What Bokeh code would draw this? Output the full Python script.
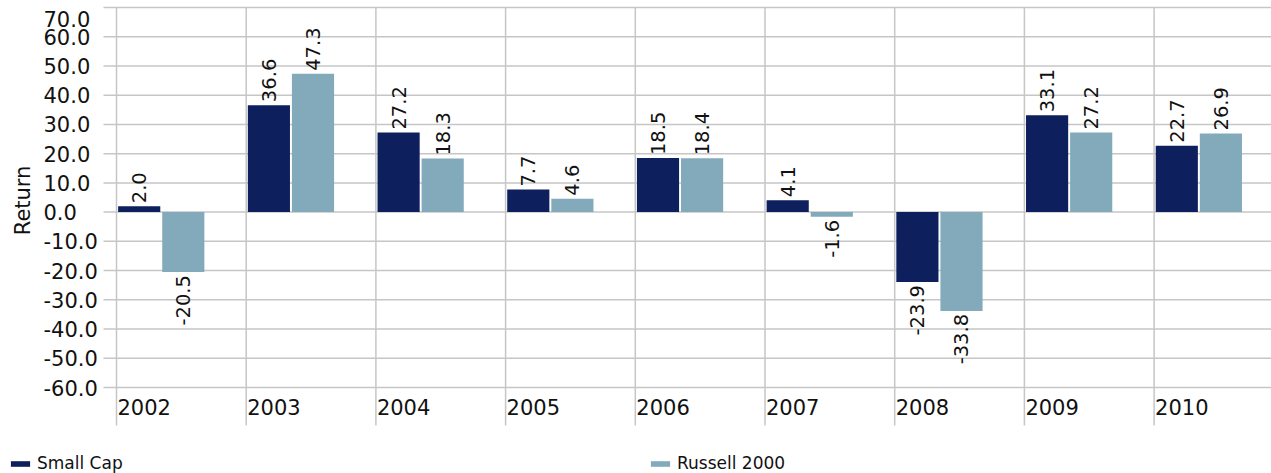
import math
from bokeh.plotting import figure
from bokeh.models import ColumnDataSource, Range1d, Legend, LegendItem
from bokeh.core.properties import value
from bokeh.embed import file_html
from bokeh.resources import INLINE

# ---- data ----
years = ["2002", "2003", "2004", "2005", "2006", "2007", "2008", "2009", "2010"]
small_cap = [2.0, 36.6, 27.2, 7.7, 18.5, 4.1, -23.9, 33.1, 22.7]
russell_2000 = [-20.5, 47.3, 18.3, 4.6, 18.4, -1.6, -33.8, 27.2, 26.9]
series_names = ["Small Cap", "Russell 2000"]
y_ticks = [-60, -50, -40, -30, -20, -10, 0, 10, 20, 30, 40, 50, 60, 70]
y_title = "Return"

# ---- style / layout ----
FONT = "DejaVu Sans"
C_SMALL = "#0d1f5c"
C_RUSS = "#83aabb"
GRID = "#c6c6c6"
TXT = "#111111"
BAR_W = 0.325
OFF1, OFF2 = 0.175, 0.515
W, H = 1271, 473
PX_X = 129.7            # pixels per category
PLOT_LEFT = 116         # left edge of the plotting area (px)
PLOT_TOP = 7            # px of the top tick
PLOT_BOTTOM = 387       # px of the bottom tick
GRID_EXT = 38           # category lines run this far below the bottom tick (px)

y_top, y_bot = max(y_ticks), min(y_ticks)
PX_Y = (PLOT_BOTTOM - PLOT_TOP) / (y_top - y_bot)
x_start = -PLOT_LEFT / PX_X
x_end = (W - PLOT_LEFT) / PX_X
y_end = y_top + PLOT_TOP / PX_Y
y_start = y_bot - (H - PLOT_BOTTOM) / PX_Y
y_cat_line_end = y_bot - GRID_EXT / PX_Y
x_tick_start = -13 / PX_X
x_tick_label = -73 / PX_X
x_title = -94 / PX_X

idx = list(range(len(years)))

p = figure(width=W, height=H, output_backend="svg", toolbar_location=None,
           x_range=Range1d(x_start, x_end), y_range=Range1d(y_start, y_end),
           min_border=0, x_axis_location=None, y_axis_location=None)
p.outline_line_color = None
p.grid.visible = False
p.background_fill_color = "white"
p.border_fill_color = "white"

# grid: category boundaries and value ticks (with outward tick marks)
p.segment(x0=idx, x1=idx, y0=[y_cat_line_end] * len(idx), y1=[y_top] * len(idx),
          line_color=GRID, line_width=1.5)
p.segment(x0=[x_tick_start] * len(y_ticks), x1=[x_end] * len(y_ticks),
          y0=y_ticks, y1=y_ticks, line_color=GRID, line_width=1.5)

# value tick labels (left aligned; top one kept inside the page)
tick_src = ColumnDataSource(dict(x=[x_tick_label] * len(y_ticks), y=y_ticks,
                                 text=[f"{t:.1f}" for t in y_ticks],
                                 yoff=[11 if t == y_top else 0 for t in y_ticks]))
p.text(x="x", y="y", text="text", source=tick_src, y_offset="yoff",
       text_align="left", text_baseline="middle", text_font=value(FONT),
       text_font_size="21px", text_color=TXT)

# axis title
p.text(x=[x_title], y=[4.0], text=[y_title], angle=math.pi / 2,
       text_align="center", text_baseline="middle", text_font=value(FONT),
       text_font_size="21px", text_color=TXT)

# bars
r1 = p.vbar(x=[i + OFF1 for i in idx], top=small_cap, bottom=0, width=BAR_W,
            fill_color=C_SMALL, line_color=None)
r2 = p.vbar(x=[i + OFF2 for i in idx], top=russell_2000, bottom=0, width=BAR_W,
            fill_color=C_RUSS, line_color=None)

# data labels
lx, ly, lt, la, lo = [], [], [], [], []
for off, vals in ((OFF1, small_cap), (OFF2, russell_2000)):
    for i, v in zip(idx, vals):
        lx.append(i + off)
        ly.append(v)
        lt.append(f"{v:.1f}")
        la.append("left" if v >= 0 else "right")
        lo.append(-3 if v >= 0 else 3)
lab_src = ColumnDataSource(dict(x=lx, y=ly, text=lt, align=la, yoff=lo))
p.text(x="x", y="y", text="text", source=lab_src, angle=math.pi / 2,
       text_align="align", y_offset="yoff", text_baseline="middle",
       text_font=value(FONT), text_font_size="19.5px", text_color=TXT)

# category labels
cat_src = ColumnDataSource(dict(x=idx, y=[y_bot] * len(idx), text=years))
p.text(x="x", y="y", text="text", source=cat_src, x_offset=1, y_offset=11,
       text_align="left", text_baseline="top", text_font=value(FONT),
       text_font_size="21px", text_color=TXT)

# legend along the bottom
leg = Legend(items=[LegendItem(label=series_names[0], renderers=[r1]),
                    LegendItem(label=series_names[1], renderers=[r2])],
             location=(8, 0), orientation="horizontal",
             glyph_width=24, glyph_height=7, label_standoff=5, label_width=611,
             spacing=0, label_text_font=FONT, label_text_font_size="17px",
             label_text_color=TXT, padding=0, margin=0,
             border_line_color=None, background_fill_alpha=0)
p.add_layout(leg, "center")

open("out.html", "w").write(file_html(p, INLINE))
